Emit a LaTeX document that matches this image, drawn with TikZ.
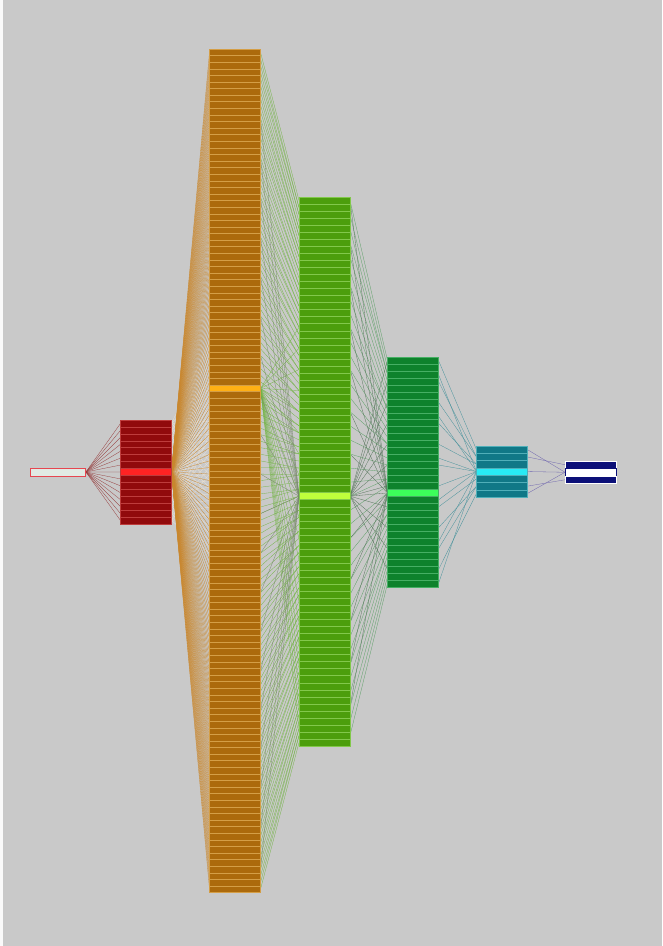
\documentclass[tikz,border=0pt]{standalone}
\pgfdeclarelayer{bg}
\pgfdeclarelayer{edges}
\pgfsetlayers{bg,edges,main}
\definecolor{bgc}{RGB}{201,201,201}
\definecolor{redf}{RGB}{145,10,12}
\definecolor{redl}{RGB}{190,60,60}
\definecolor{redh}{RGB}{255,35,35}
\definecolor{orf}{RGB}{172,106,12}
\definecolor{orl}{RGB}{212,158,70}
\definecolor{orh}{RGB}{255,175,20}
\definecolor{grf}{RGB}{76,158,12}
\definecolor{grl}{RGB}{130,200,75}
\definecolor{grh}{RGB}{190,255,60}
\definecolor{dgf}{RGB}{14,130,44}
\definecolor{dgl}{RGB}{70,175,100}
\definecolor{dgh}{RGB}{60,255,90}
\definecolor{tef}{RGB}{16,120,135}
\definecolor{tel}{RGB}{80,175,185}
\definecolor{teh}{RGB}{40,235,245}
\definecolor{nvf}{RGB}{12,16,120}
\definecolor{srcb}{RGB}{230,70,80}
\definecolor{srcf}{RGB}{225,234,228}
\definecolor{e1c}{RGB}{150,60,60}
\definecolor{e2c}{RGB}{200,135,45}
\definecolor{e2w}{RGB}{235,225,210}
\definecolor{e3c}{RGB}{115,180,70}
\definecolor{e3d}{RGB}{120,135,110}
\definecolor{e4c}{RGB}{85,115,90}
\definecolor{e4g}{RGB}{90,160,100}
\definecolor{e5c}{RGB}{70,145,155}
\definecolor{e6c}{RGB}{110,100,175}
\tikzset{
  cell/.style={draw=#1, line width=0.5pt, inner sep=0pt, outer sep=0pt, minimum width=51pt},
  ed/.style={draw=#1, line width=0.3pt}
}
\begin{document}
\begin{tikzpicture}[x=1pt,y=-1pt]
\useasboundingbox (0,0) rectangle (662,946);
\begin{pgfonlayer}{bg}
  \fill[bgc] (0,0) rectangle (662,946);
  \fill[white!90!bgc] (0,0) rectangle (3,946);
\end{pgfonlayer}
% source
\node[draw=srcb, fill=srcf, line width=0.8pt, minimum width=55pt, minimum height=8pt, inner sep=0pt] (src) at (58,472) {};
% red column: 15 rows
\foreach \i in {0,...,14} {
  \node[cell=redl, fill=redf, minimum height=6.93pt] (r\i) at (146,{420+(\i+0.5)*6.93}) {};
}
\node[cell=redl, fill=redh, minimum height=6.93pt] at (r7) {};
% orange column: 128 rows
\foreach \i in {0,...,127} {
  \node[cell=orl, fill=orf, minimum height=6.59pt] (o\i) at (235,{49+(\i+0.5)*6.59}) {};
}
\node[cell=orl, fill=orh, minimum height=6.59pt] at (o51) {};
% green column: 78 rows
\foreach \i in {0,...,77} {
  \node[cell=grl, fill=grf, minimum height=7.04pt] (g\i) at (324.5,{197+(\i+0.5)*7.04}) {};
}
\node[cell=grl, fill=grh, minimum height=7.04pt] at (g42) {};
% dark green column: 33 rows
\foreach \i in {0,...,32} {
  \node[cell=dgl, fill=dgf, minimum height=6.97pt] (d\i) at (413,{357+(\i+0.5)*6.97}) {};
}
\node[cell=dgl, fill=dgh, minimum height=6.97pt] at (d19) {};
% teal column: 7 rows
\foreach \i in {0,...,6} {
  \node[cell=tel, fill=tef, minimum height=7.3pt] (t\i) at (502,{446+(\i+0.5)*7.3}) {};
}
\node[cell=tel, fill=teh, minimum height=7.3pt] at (t3) {};
% navy column: 3 rows
\node[cell=white, fill=nvf, minimum height=7.5pt] (n0) at (590.5,464.75) {};
\node[cell=nvf, fill=white, minimum height=7.5pt] (n1) at (590.5,472.25) {};
\node[cell=white, fill=nvf, minimum height=7.5pt] (n2) at (590.5,479.75) {};

\begin{pgfonlayer}{edges}
  % source -> red
  \foreach \i in {0,...,14} { \draw[ed=e1c] (src.east) -- (r\i.west); }
  % red -> orange (pale)
  \foreach \i in {0,...,14} {
    \foreach \k in {-12,-6,0,6} {
      \pgfmathtruncatemacro\j{56+\i+\k}
      \draw[ed=e2w] (r\i.east) -- (o\j.west);
    }
  }
  % red highlight -> all orange
  \foreach \i in {0,...,127} { \draw[ed=e2c] (r7.east) -- (o\i.west); }
  % orange -> green (mapped)
  \foreach \i in {0,...,127} {
    \pgfmathtruncatemacro\j{round(\i*77/127)}
    \draw[ed=e3c] (o\i.east) -- (g\j.west);
  }
  \foreach \j in {18,21,...,77} { \draw[ed=e3c] (o51.east) -- (g\j.west); }
  \foreach \i in {10,16,...,127} { \draw[ed=e3d] (o\i.east) -- (g42.west); }
  % green -> dark green
  \foreach \i in {0,2,...,77} {
    \pgfmathtruncatemacro\j{round(\i*32/77)}
    \draw[ed=e4g] (g\i.east) -- (d\j.west);
  }
  \foreach \j in {0,3,...,32} { \draw[ed=e4c] (g42.east) -- (d\j.west); }
  \foreach \i in {0,6,...,77} { \draw[ed=e4c] (g\i.east) -- (d19.west); }
  % dark green -> teal
  \foreach \i in {0,3,...,32} {
    \pgfmathtruncatemacro\j{round(\i*6/32)}
    \draw[ed=e5c] (d\i.east) -- (t\j.west);
  }
  \foreach \i in {2,8,...,32} { \draw[ed=e5c] (d\i.east) -- (t3.west); }
  % teal -> navy
  \draw[ed=e6c] (t0.east) -- (n1.west);
  \draw[ed=e6c] (t3.east) -- (n1.west);
  \draw[ed=e6c] (t6.east) -- (n1.west);
  \draw[ed=e6c] (t1.east) -- (n0.west);
  \draw[ed=e6c] (t5.east) -- (n2.west);
\end{pgfonlayer}
\end{tikzpicture}
\end{document}
